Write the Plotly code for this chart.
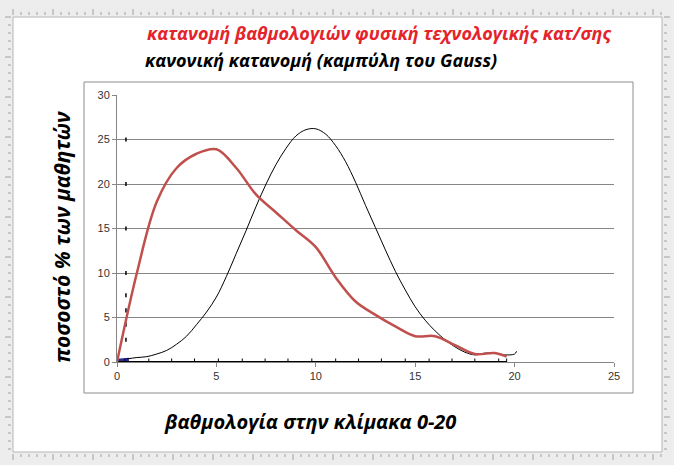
import plotly.graph_objects as go

# red series: grade distribution (smoothed in the original)
grade_x = [0, 1, 2, 3, 4, 5, 6, 7, 8, 9, 10, 11, 12, 13, 14, 15, 16, 17, 18, 19, 19.6]
grade_pct = [0, 10, 18, 21.8, 23.4, 23.9, 21.8, 18.8, 16.8, 14.8, 12.9, 9.5, 6.8, 5.3,
             4.0, 2.9, 2.9, 1.9, 0.9, 1.0, 0.6]

# black series: normal curve (Gauss)
gauss_x = [0.5, 1, 1.5, 2, 2.5, 3, 3.5, 4, 4.5, 5, 5.5, 6, 6.5, 7, 7.5, 8, 8.5, 9, 9.5, 10,
           10.5, 11, 11.5, 12, 12.5, 13, 13.5, 14, 14.5, 15, 15.5, 16, 16.5, 17, 17.5, 18,
           18.5, 19, 19.5, 20, 20.1]
gauss_y = [0.35, 0.5, 0.6, 0.9, 1.3, 2.0, 2.9, 4.2, 5.6, 7.3, 9.6, 12.2, 14.8, 17.5, 20.0,
           22.2, 24.0, 25.4, 26.1, 26.2, 25.6, 24.3, 22.5, 20.2, 17.6, 15.1, 12.6, 10.2, 8.1,
           6.2, 4.7, 3.5, 2.5, 1.7, 1.1, 0.8, 1.0, 1.0, 0.8, 0.9, 1.2]

# black baseline series with small markers
base_x = [0, 0.4, 1.6, 2.75, 3.9, 5.1, 6.3, 7.45, 8.6, 9.8, 11.0, 12.15, 13.3, 14.5, 15.7,
          16.85, 18.0, 19.2, 19.6]
base_y = [0] * len(base_x)

# dotted vertical series near the y axis
dot_x = [0.45, 0.45, 0.45, 0.45, 0.45, 0.45, 0.45, 0.45]
dot_y = [2.5, 4.2, 5.8, 7.5, 10, 15, 20, 25]

# short blue segment at the origin
blue_x = [0, 0.6]
blue_y = [0.15, 0.25]

x_ticks = [0, 5, 10, 15, 20, 25]
y_ticks = [0, 5, 10, 15, 20, 25, 30]

W, H = 674, 465
L, R, T, B = 117, 614, 95, 362  # plot area in pixels


def px(x):
    return (x - L) / (R - L)


def py(y):
    return (B - y) / (B - T)


fig = go.Figure()

fig.add_trace(go.Scatter(x=blue_x, y=blue_y, mode="lines",
                         line=dict(color="#2B2B9C", width=4), hoverinfo="skip"))
fig.add_trace(go.Scatter(x=base_x, y=base_y, mode="lines+markers",
                         line=dict(color="black", width=2),
                         marker=dict(symbol="line-ns", size=5,
                                     line=dict(color="black", width=1)),
                         hoverinfo="skip"))
fig.add_trace(go.Scatter(x=dot_x, y=dot_y, mode="markers",
                         marker=dict(symbol="line-ns", size=3,
                                     line=dict(color="black", width=1.5)),
                         hoverinfo="skip"))
fig.add_trace(go.Scatter(x=gauss_x, y=gauss_y, mode="lines",
                         line=dict(color="black", width=1, shape="spline", smoothing=1)))
fig.add_trace(go.Scatter(x=grade_x, y=grade_pct, mode="lines",
                         line=dict(color="#C0504D", width=2.5, shape="spline", smoothing=1)))

shapes = []
# page rulers / window frame
shapes.append(dict(type="rect", xref="paper", yref="paper",
                   x0=px(0), x1=px(W), y0=py(H), y1=py(0),
                   fillcolor="#EDEDED", line=dict(width=0), layer="below"))
shapes.append(dict(type="rect", xref="paper", yref="paper",
                   x0=px(13), x1=px(662), y0=py(452), y1=py(17),
                   fillcolor="white", line=dict(color="#B5B5B5", width=1), layer="below"))
for t in range(13, 662, 8):
    h = 6 if (t - 13) % 40 == 0 else 3
    shapes.append(dict(type="line", xref="paper", yref="paper",
                       x0=px(t), x1=px(t), y0=py(15), y1=py(15 - h),
                       line=dict(color="#A0A0A0", width=1)))
    shapes.append(dict(type="line", xref="paper", yref="paper",
                       x0=px(t), x1=px(t), y0=py(454), y1=py(454 + h),
                       line=dict(color="#A0A0A0", width=1)))
for t in range(17, 452, 8):
    h = 6 if (t - 17) % 40 == 0 else 3
    shapes.append(dict(type="line", xref="paper", yref="paper",
                       x0=px(11), x1=px(11 - h), y0=py(t), y1=py(t),
                       line=dict(color="#A0A0A0", width=1)))
    shapes.append(dict(type="line", xref="paper", yref="paper",
                       x0=px(664), x1=px(664 + h), y0=py(t), y1=py(t),
                       line=dict(color="#A0A0A0", width=1)))
# plot area border
shapes.append(dict(type="rect", xref="paper", yref="paper",
                   x0=px(84), x1=px(633), y0=py(393), y1=py(82),
                   line=dict(color="#8C8C8C", width=1), layer="below"))

fnt = "Open Sans"
annotations = [
    dict(text="<b><i>κατανομή βαθμολογιών φυσική τεχνολογικής κατ/σης</i></b>",
         x=px(145), y=py(33), xanchor="left", yanchor="middle",
         font=dict(family=fnt, size=18, color="#E4232B")),
    dict(text="<b><i>κανονική κατανομή (καμπύλη του Gauss)</i></b>",
         x=px(143), y=py(60), xanchor="left", yanchor="middle",
         font=dict(family=fnt, size=18, color="black")),
    dict(text="<b><i>ποσοστό % των μαθητών</i></b>",
         x=px(62), y=py(237), xanchor="center", yanchor="middle", textangle=-90,
         font=dict(family=fnt, size=21, color="black")),
    dict(text="<b><i>βαθμολογία στην κλίμακα 0-20</i></b>",
         x=px(310), y=py(421), xanchor="center", yanchor="middle",
         font=dict(family=fnt, size=20, color="black")),
]
for a in annotations:
    a.update(xref="paper", yref="paper", showarrow=False)

fig.update_layout(
    width=W, height=H,
    margin=dict(l=L, r=W - R, t=T, b=H - B, pad=0),
    paper_bgcolor="white", plot_bgcolor="white",
    showlegend=False,
    shapes=shapes,
    annotations=annotations,
    font=dict(family="Liberation Sans", size=11, color="#333333"),
)
fig.update_xaxes(range=[0, 25], tickvals=x_ticks, showgrid=False, zeroline=False,
                 showline=True, linecolor="#868686", ticks="outside", ticklen=4,
                 tickcolor="#868686", fixedrange=True)
fig.update_yaxes(range=[0, 30], tickvals=y_ticks, showgrid=True, gridcolor="#868686",
                 zeroline=False, showline=True, linecolor="#868686", ticks="outside",
                 ticklen=4, tickcolor="#868686", fixedrange=True)

fig.write_html("out.html", config={"displayModeBar": False},
               post_script="document.body.style.margin='0';"
                           "document.body.style.overflow='hidden';")
